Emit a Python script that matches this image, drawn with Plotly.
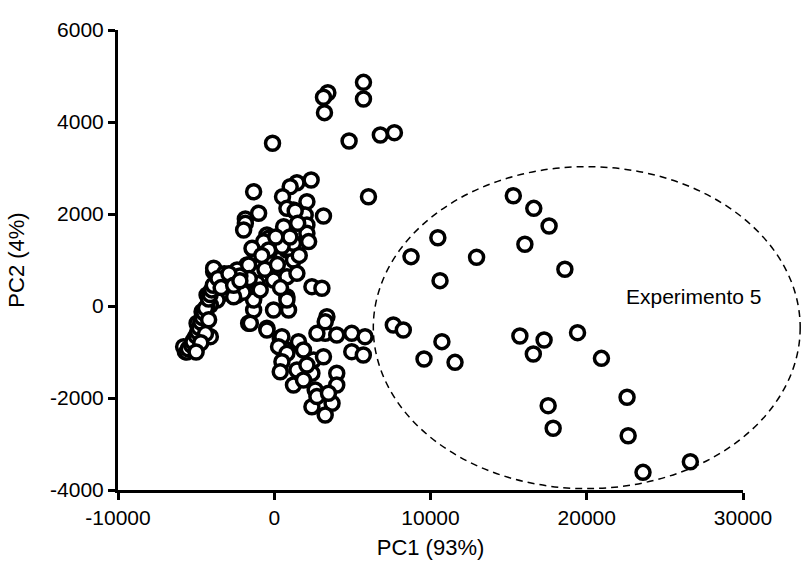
import plotly.graph_objects as go

# PCA scores
pc1 = [
    # top / upper scattered
    5710, 5710, 3430, 3150, 3215, -110, 4790, 6790, 7690, 6030,
    -1320, 1450, 2360, 1020, 530, 2090, -1000, 3150, -1850,
    1230, 1980, -1850, -1960, 600, 2090, 2090, -256, -1320, -256, 810,
    1450, -470, 1230, -1745, -1100, -3880, -2380, -45, -1100, 810,
    1450, 2410, 3050, -2380, -1320, -4300, -4620, -1320, -45, 915,
    810, 3370, 810, 1340, -360, -680, -1425, 915, 1230, -3880,
    -1640, -360, -1320, 810, -3880, -3130, -3240, -3660, -4090,
    # dense core of the upper-left cluster
    -2800, -2000, -1600, -600, 200, 500, 1000, -800, 1600, 400,
    -2600, -3200, 1500, 2200, 100, -2200, -900,
    # lower-middle cluster
    -1640, -470, 383, 810, -1530, -470, 490, 275, 810, 1550,
    1870, 490, 383, 1450, 2410, 1230, 2620, 3260, 2730, 2510,
    3150, 4000, 4960, 5810, 4960, 5700, 4000, 4000, 3700, 2410,
    3260, 3260, 2090, 1870, 2730, 3470,
    # left band
    -5690, -5800, -5370, -5150, -4730, -4300, -4940, -4090,
    -5600, -5500, -5300, -5200, -5000, -4900, -4800, -4700, -4600,
    -4500, -4400, -4200, -4100, -4000, -3900, -4200, -4400, -4700,
    -5000, -3600, -3400, -2900, -2600, -2200,
    # experiment 5 group
    15300, 16610, 17590, 16040, 18600, 10470, 8755, 12950, 10610,
    7620, 8260, 10730, 9585, 11570, 15720, 17270, 16580, 19410,
    20940, 17530, 17850, 22580, 22650, 23600, 26630,
]
pc2 = [
    4862, 4500, 4637, 4537, 4203, 3537, 3587, 3717, 3768, 2376,
    2485, 2680, 2740, 2594, 2376, 2268, 2015, 1957, 1891,
    2087, 1978, 1800, 1652, 1724, 1761, 1580, 1435, 1217, 1217, 1217,
    1326, 1543, 1000, 891, 1000, 746, 783, 565, 493, 637,
    710, 420, 385, 239, 167, 239, -124, -87, -87, -87,
    202, -233, 2123, 2065, 1472, 1398, 1254, 1254, 1363, 820,
    891, 1217, 130, 130, 202, 493, 276, 130, 22,
    600, 300, 600, 800, 900, 1300, 1500, 1100, 1100, 400,
    200, 700, 1800, 1400, 1500, 650, 350,
    -376, -485, -702, -957, -376, -522, -667, -884, -1029, -775,
    -957, -1210, -1428, -1391, -1463, -1717, -1826, -594, -594, -1174,
    -1102, -630, -594, -667, -993, -1065, -1463, -1717, -2115, -2190,
    -2370, -341, -1283, -1609, -1970, -1898,
    -993, -884, -920, -739, -449, -14, -376, -667,
    -1000, -930, -850, -780, -650, -560, -470, -350, -250,
    -150, -50, 150, 250, 350, 450, -300, -600, -800,
    -1000, 600, 400, 700, 450, 550,
    2398, 2123, 1739, 1341, 798, 1485, 1073, 1058, 551,
    -413, -522, -775, -1152, -1225, -652, -739, -1043, -580,
    -1138, -2167, -2659, -1985, -2820, -3616, -3385,
]

x_ticks = [-10000, 0, 10000, 20000, 30000]
y_ticks = [-4000, -2000, 0, 2000, 4000, 6000]
x_range = [-10000, 30000]
y_range = [-4000, 6000]

# ellipse around experiment 5 (data units)
ell_x = [6340, 33660]
ell_y = [-3970, 3030]
label_xy = (26800, 200)

FONT = "Liberation Sans, Arial, Helvetica, sans-serif"

fig = go.Figure()
fig.add_trace(go.Scatter(
    x=pc1, y=pc2, mode="markers",
    marker=dict(size=14, color="white", line=dict(color="black", width=3.5)),
    cliponaxis=False, showlegend=False, hoverinfo="x+y",
))

def px_(v):
    return (v - x_range[0]) / (x_range[1] - x_range[0])

def py_(v):
    return (v - y_range[0]) / (y_range[1] - y_range[0])

fig.add_shape(type="circle", xref="paper", yref="paper",
              x0=px_(ell_x[0]), x1=px_(ell_x[1]),
              y0=py_(ell_y[0]), y1=py_(ell_y[1]),
              line=dict(color="black", width=1.5, dash="7px,5px"),
              layer="below")

fig.add_annotation(x=label_xy[0], y=label_xy[1], xref="x", yref="y",
                   text="Experimento 5", showarrow=False,
                   font=dict(family=FONT, size=21, color="black"))

axis_common = dict(showline=True, linecolor="black", linewidth=3,
                   ticks="outside", ticklen=7, tickwidth=3, tickcolor="black",
                   showgrid=False, zeroline=False,
                   tickfont=dict(family=FONT, size=21, color="black"))

fig.update_xaxes(range=x_range, tickvals=x_ticks,
                 ticktext=[str(v) for v in x_ticks],
                 title=dict(text="PC1 (93%)", font=dict(family=FONT, size=22, color="black"), standoff=12),
                 **axis_common)
fig.update_yaxes(range=y_range, tickvals=y_ticks,
                 ticktext=[str(v) for v in y_ticks],
                 title=dict(text="PC2 (4%)", font=dict(family=FONT, size=22, color="black"), standoff=20),
                 **axis_common)

fig.update_layout(
    width=802, height=567,
    margin=dict(l=118, r=59, t=30, b=77, autoexpand=False),
    plot_bgcolor="white", paper_bgcolor="white",
    font=dict(family=FONT, color="black"),
)

fig.write_html("out.html", config={"displayModeBar": False},
               post_script="document.body.style.margin='0px';")
